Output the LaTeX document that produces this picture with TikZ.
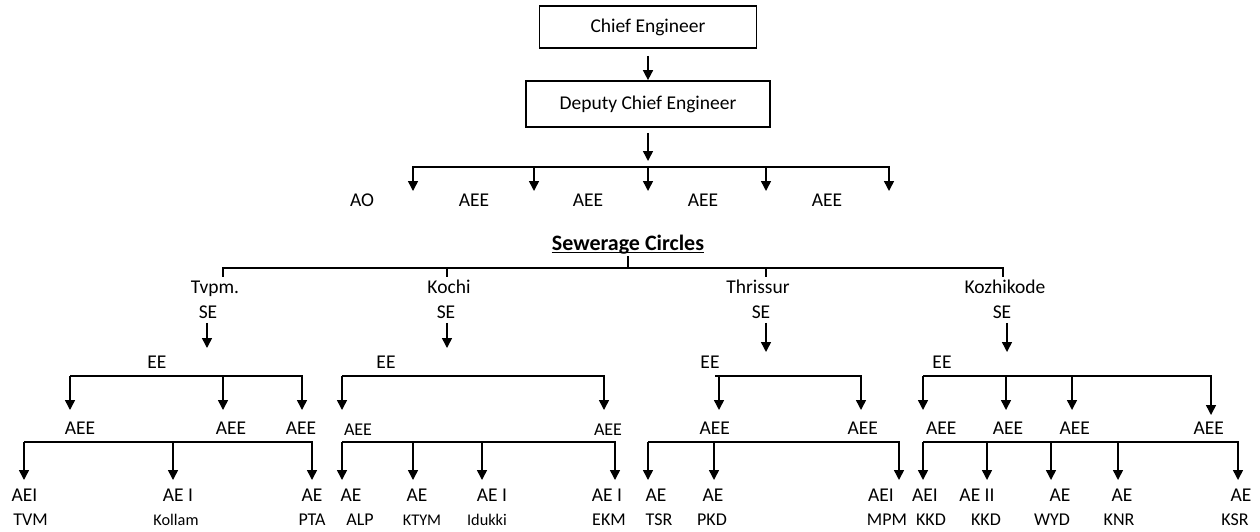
\documentclass[tikz,border=0pt]{standalone}
\usepackage{fontspec}
\setmainfont{Carlito}
\usetikzlibrary{arrows.meta,positioning}
\newcommand\sm{\fontsize{16.3}{18}\selectfont}
\newcommand\md{\fontsize{18}{20}\selectfont}

\begin{document}
\begin{tikzpicture}[x=1pt,y=-1pt,
  box/.style={draw,line width=1.7pt,inner sep=0pt,font=\fontsize{19.5}{22}\selectfont},
  lbl/.style={inner sep=0pt,text height=12.6pt,text depth=0pt,font=\fontsize{19.5}{22}\selectfont},
  bar/.style={line width=1.5pt},
  arr/.style={bar,-{Triangle[width=10pt,length=10pt]}}]
\useasboundingbox (0,0) rectangle (1260,531);

% head office
\node[box,minimum width=217pt,minimum height=42pt] (CE) at (648,27) {Chief Engineer};
\node[box,minimum width=244pt,minimum height=46pt] (DCE) at (648,104) {Deputy Chief Engineer};
\draw[arr,shorten <=7pt] (CE) -- (DCE);
\coordinate (DCEj) at (648,167);
\draw[arr,shorten <=5pt,shorten >=6pt] (DCE) -- (DCEj);
\foreach \x [count=\i] in {413,534,648,766,889} {
  \coordinate (Ot\i) at (\x,191);
  \draw[arr] (DCEj) -| (Ot\i);
}
\foreach \x/\lab [count=\i] in {362/AO,474/AEE,588/AEE,703/AEE,827/AEE}
  \node[lbl] (O\i) at (\x,200) {\lab};

% circles
\node[inner sep=0pt,text height=14.2pt,text depth=5.3pt,font=\fontsize{22}{24}\selectfont\bfseries] (SC) at (628,246.4) {Sewerage Circles};
\draw[line width=1.1pt] ([yshift=-1.8pt]SC.base west) -- ([yshift=-1.8pt]SC.base east);
\coordinate (SCj) at (628,268);
\draw[bar] (SC) -- (SCj);
\foreach \x [count=\i] in {223,447,766,1003} {
  \coordinate (Ct\i) at (\x,277);
  \draw[bar] (SCj) -| (Ct\i);
}
\foreach \x/\lab [count=\i] in {215/Tvpm.,449/Kochi,758/Thrissur,1005/Kozhikode}
  \node[lbl] (C\i) at (\x,287) {\lab};
\foreach \x/\ax/\ay [count=\i] in {208/207/348,446/447/348,761/766/352,1002/1007/352} {
  \node[lbl] (S\i) at (\x,312.3) {SE};
  \coordinate (St\i) at (\ax,\ay);
  \draw[arr,shorten <=4pt] (S\i.south -| St\i) -- (St\i);
}
\foreach \x [count=\i] in {157,386,710,942}
  \node[lbl] (E\i) at (\x,362) {EE};

% Tvpm.
\coordinate (TvEj) at (70,376);
\foreach \x [count=\i] in {70,223,302} {
  \coordinate (TvEt\i) at (\x,410);
  \draw[arr] (TvEj) -| (TvEt\i);
}
\foreach \x [count=\i] in {80,231,301}
  \node[lbl] (TvA\i) at (\x,428.3) {AEE};
\coordinate (TvAj) at (24,442);
\foreach \x [count=\i] in {24,173,312} {
  \coordinate (TvAt\i) at (\x,480);
  \draw[arr] (TvAj) -| (TvAt\i);
}
\foreach \x/\lab/\xx/\sub [count=\i] in {24.5/AEI/30.5/TVM,178/AE I/176/\sm Kollam,312/AE/312/PTA} {
  \node[lbl] (TvB\i) at (\x,495) {\lab};
  \node[lbl,font=\md] (TvC\i) at (\xx,519.5) {\sub};
}

% Kochi
\coordinate (KoEj) at (342,376);
\foreach \x [count=\i] in {342,604} {
  \coordinate (KoEt\i) at (\x,410);
  \draw[arr] (KoEj) -| (KoEt\i);
}
\foreach \x [count=\i] in {358,608}
  \node[lbl,font=\md] (KoA\i) at (\x,429.5) {AEE};
\coordinate (KoAj) at (342,442);
\foreach \x [count=\i] in {342,413,482,615} {
  \coordinate (KoAt\i) at (\x,480);
  \draw[arr] (KoAj) -| (KoAt\i);
}
\foreach \x/\lab/\xx/\sub [count=\i] in {351/AE/360/ALP,417/AE/422/\sm KTYM,492/AE I/487/\sm Idukki,607/AE I/609/EKM} {
  \node[lbl] (KoB\i) at (\x,495) {\lab};
  \node[lbl,font=\md] (KoC\i) at (\xx,519.5) {\sub};
}

% Thrissur
\coordinate (ThEj) at (715,376);
\foreach \x [count=\i] in {719,861} {
  \coordinate (ThEt\i) at (\x,410);
  \draw[arr] (ThEj) -| (ThEt\i);
}
\foreach \x [count=\i] in {714.7,862.8}
  \node[lbl] (ThA\i) at (\x,428.3) {AEE};
\coordinate (ThAj) at (648,442);
\foreach \x [count=\i] in {648,714,899} {
  \coordinate (ThAt\i) at (\x,480);
  \draw[arr] (ThAj) -| (ThAt\i);
}
\foreach \x/\lab/\xx/\sub [count=\i] in {656/AE/659/TSR,713/AE/712/PKD,881/AEI/887/MPM} {
  \node[lbl] (ThB\i) at (\x,495) {\lab};
  \node[lbl,font=\md] (ThC\i) at (\xx,519.5) {\sub};
}

% Kozhikode
\coordinate (KzEj) at (923,376);
\foreach \x/\y [count=\i] in {923/410,1006/410,1072/410,1211/415} {
  \coordinate (KzEt\i) at (\x,\y);
  \draw[arr] (KzEj) -| (KzEt\i);
}
\foreach \x [count=\i] in {941.3,1008,1074.7,1208.7}
  \node[lbl] (KzA\i) at (\x,428.3) {AEE};
\coordinate (KzAj) at (923,442);
\foreach \x [count=\i] in {923,987,1051,1118,1238} {
  \coordinate (KzAt\i) at (\x,480);
  \draw[arr] (KzAj) -| (KzAt\i);
}
\foreach \x/\lab/\xx/\sub [count=\i] in {925/AEI/931/KKD,977/AE II/986/KKD,1060/AE/1052/WYD,1122/AE/1119/KNR,1241/AE/1235/KSR} {
  \node[lbl] (KzB\i) at (\x,495) {\lab};
  \node[lbl,font=\md] (KzC\i) at (\xx,519.5) {\sub};
}
\end{tikzpicture}
\end{document}
